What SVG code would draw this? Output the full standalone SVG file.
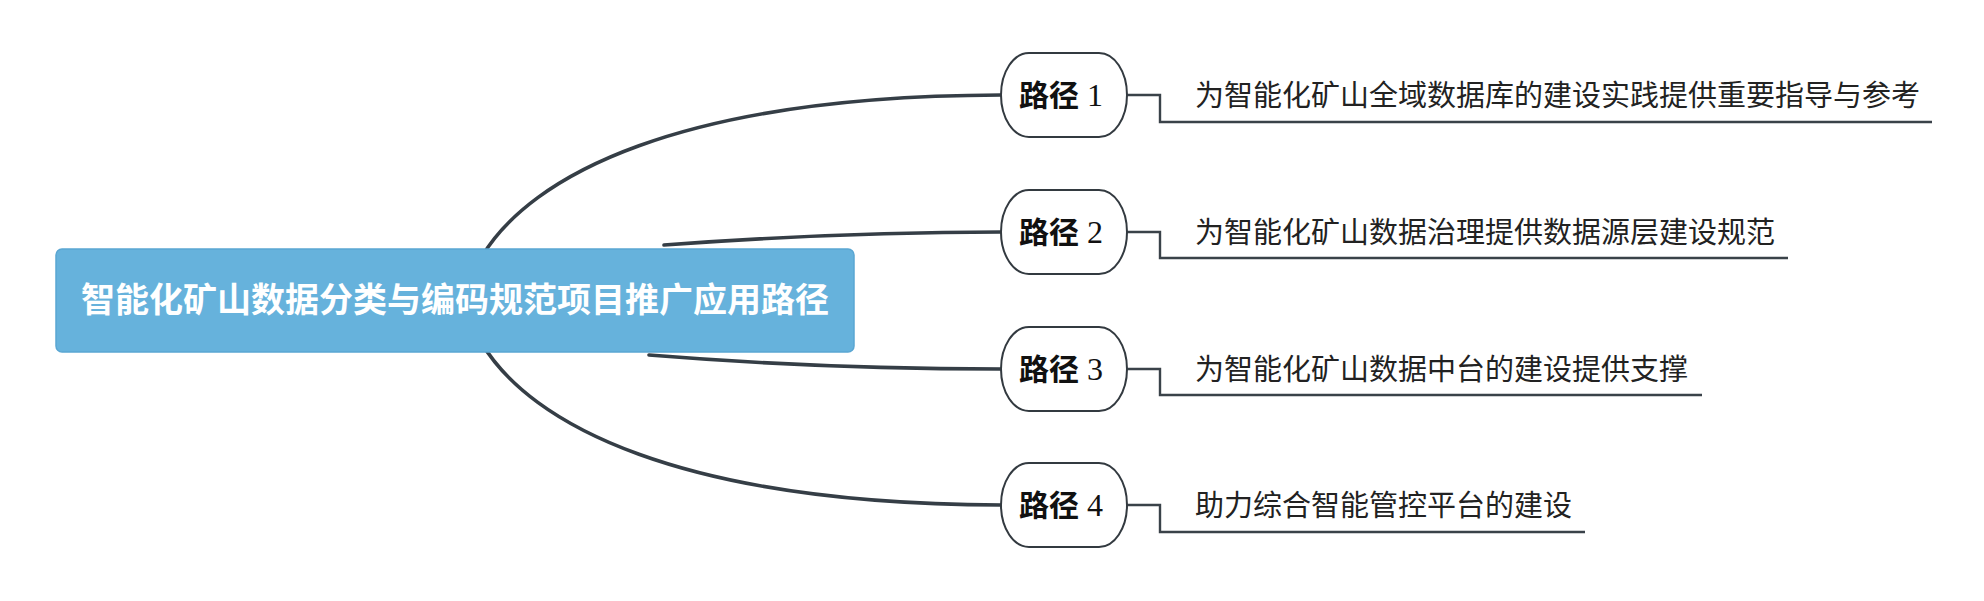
<svg xmlns="http://www.w3.org/2000/svg" width="1984" height="601" viewBox="0 0 1984 601">
<style>
.curve{fill:none;stroke:#353e46;stroke-width:3.6;stroke-linecap:round}
.elbow{fill:none;stroke:#3a4249;stroke-width:2.4}
.node{fill:#ffffff;stroke:#333a40;stroke-width:2}
.lbl{font-family:"Noto Sans CJK SC",sans-serif;font-size:30px;font-weight:bold;fill:#111}
.num{font-family:"Liberation Serif",serif;font-weight:normal;font-size:32px}
.desc{font-family:"Noto Sans CJK SC",sans-serif;font-size:29px;fill:#222}
.root{fill:#66b2dc;stroke:#5aa6d2;stroke-width:1.5}
.rootText{font-family:"Noto Sans CJK SC",sans-serif;font-size:34px;font-weight:bold;fill:#ffffff}
</style>
<rect width="1984" height="601" fill="#ffffff"/>
<g id="connectors">
<path class="curve" d="M 481 258 C 530 175 680 96 1001 95"/>
<path class="curve" d="M 664 245 C 760 238 880 232 1001 232"/>
<path class="curve" d="M 649 355 C 760 364 880 369 1001 369"/>
<path class="curve" d="M 481 342 C 530 425 680 504 1001 505"/>
<path class="elbow" d="M 1127 95 H 1160 V 122 H 1932"/>
<path class="elbow" d="M 1127 232 H 1160 V 258 H 1788"/>
<path class="elbow" d="M 1127 369 H 1160 V 395 H 1702"/>
<path class="elbow" d="M 1127 505 H 1160 V 532 H 1585"/>
</g>
<g id="root">
<rect class="root" x="56" y="249" width="798" height="103" rx="6" ry="6"/>
<text class="rootText" x="455" y="312" text-anchor="middle">智能化矿山数据分类与编码规范项目推广应用路径</text>
</g>
<g id="path1">
<rect class="node" x="1001" y="53" width="126" height="84" rx="28" ry="42"/>
<text class="lbl" x="1061" y="106" text-anchor="middle">路径<tspan class="num"> 1</tspan></text>
</g>
<g id="desc1">
<text class="desc" x="1195" y="106">为智能化矿山全域数据库的建设实践提供重要指导与参考</text>
</g>
<g id="path2">
<rect class="node" x="1001" y="190" width="126" height="84" rx="28" ry="42"/>
<text class="lbl" x="1061" y="243" text-anchor="middle">路径<tspan class="num"> 2</tspan></text>
</g>
<g id="desc2">
<text class="desc" x="1195" y="243">为智能化矿山数据治理提供数据源层建设规范</text>
</g>
<g id="path3">
<rect class="node" x="1001" y="327" width="126" height="84" rx="28" ry="42"/>
<text class="lbl" x="1061" y="380" text-anchor="middle">路径<tspan class="num"> 3</tspan></text>
</g>
<g id="desc3">
<text class="desc" x="1195" y="380">为智能化矿山数据中台的建设提供支撑</text>
</g>
<g id="path4">
<rect class="node" x="1001" y="463" width="126" height="84" rx="28" ry="42"/>
<text class="lbl" x="1061" y="516" text-anchor="middle">路径<tspan class="num"> 4</tspan></text>
</g>
<g id="desc4">
<text class="desc" x="1195" y="516">助力综合智能管控平台的建设</text>
</g>
</svg>
